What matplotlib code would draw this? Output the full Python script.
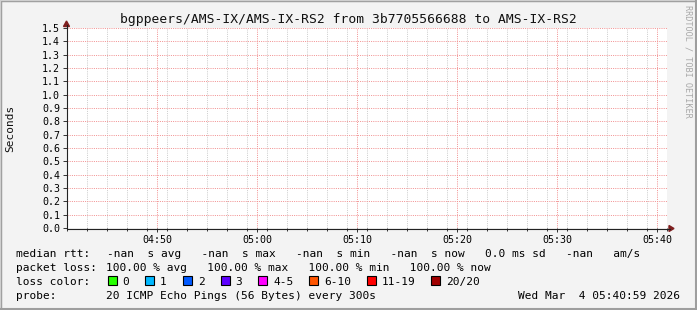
import matplotlib
matplotlib.use("Agg")
import matplotlib.pyplot as plt
from matplotlib.patches import Rectangle, Polygon
import numpy as np

plt.rcParams['font.family'] = ['DejaVu Sans Mono']

# chart content
title = "bgppeers/AMS-IX/AMS-IX-RS2 from 3b7705566688 to AMS-IX-RS2"
y_label = "Seconds"
y_ticks = [0.0, 0.1, 0.2, 0.3, 0.4, 0.5, 0.6, 0.7, 0.8, 0.9, 1.0, 1.1, 1.2, 1.3, 1.4, 1.5]
x_tick_labels = ["04:50", "05:00", "05:10", "05:20", "05:30", "05:40"]
t_start = "04:41"
t_end = "05:41"

rtt_row = "-nan  s avg   -nan  s max   -nan  s min   -nan  s now   0.0 ms sd   -nan   am/s"
loss_row = "100.00 % avg   100.00 % max   100.00 % min   100.00 % now"
loss_labels = ["0", "1", "2", "3", "4-5", "6-10", "11-19", "20/20"]
loss_colors = ["#26ff00", "#00b8ff", "#0059ff", "#5e00ff", "#ff00ff", "#ff5500", "#ff0000", "#a10000"]
probe_row = "20 ICMP Echo Pings (56 Bytes) every 300s"
stamp = "Wed Mar  4 05:40:59 2026"
watermark = "RRDTOOL / TOBI OETIKER"


def minutes(s):
    h, m = s.split(":")
    return int(h) * 60 + int(m)


W, H = 697, 310
fig = plt.figure(figsize=(W / 100, H / 100), dpi=100, facecolor="#f3f3f3")


def fx(x):
    return x / W


def fy(y):
    return 1 - y / H


# 3d border
fig.patches.append(Rectangle((0, 0), 1, 1, transform=fig.transFigure, fill=False,
                             edgecolor="#9e9e9e", lw=2.5))
fig.patches.append(Rectangle((0, 0), 1, 1, transform=fig.transFigure, fill=False,
                             edgecolor="#cfcfcf", lw=1.5))
fig.lines.append(plt.Line2D([fx(W - 1), fx(W - 1)], [0, 1], transform=fig.transFigure,
                            color="#9e9e9e", lw=1.5))
fig.lines.append(plt.Line2D([0, 1], [fy(H - 1), fy(H - 1)], transform=fig.transFigure,
                            color="#9e9e9e", lw=1.5))

L, T, R, B = 67, 28, 667, 228
ax = fig.add_axes([fx(L), fy(B), fx(R - L), (B - T) / H])
ax.set_facecolor("white")
x0, x1 = minutes(t_start), minutes(t_end)
ax.set_xlim(x0, x1)
ax.set_ylim(y_ticks[0], y_ticks[-1])

# dotted grid
grid_kw = dict(lw=0.72, ls=(0, (1, 1.2)))
minor_x = np.arange(x0, x1 + 1, 2)
major_x = [minutes(s) for s in x_tick_labels]
for m in minor_x:
    if m not in major_x and x0 < m < x1:
        ax.axvline(m, color="#cdcdcd", zorder=1, **grid_kw)
for m in major_x:
    ax.axvline(m, color="#f29494", zorder=2, **grid_kw)
for v in y_ticks[1:]:
    ax.axhline(v, color="#f29494", zorder=2, **grid_kw)

for s in ax.spines.values():
    s.set_visible(False)
ax.set_xticks(major_x)
ax.set_xticklabels(x_tick_labels)
ax.set_yticks(y_ticks)
ax.set_yticklabels(["%.1f" % v for v in y_ticks])
ax.set_xticks(minor_x, minor=True)
ax.tick_params(axis="x", which="major", length=3, width=0.7, color="#333333",
               labelsize=7.2, pad=2, direction="out")
ax.tick_params(axis="x", which="minor", length=2, width=0.7, color="#333333")
ax.tick_params(axis="y", length=3, width=0.7, color="#333333", labelsize=7.2, pad=2)

# axes lines with arrows
axis_col = "#222222"
fig.lines.append(plt.Line2D([fx(L - 0.5), fx(L - 0.5)], [fy(B), fy(25)], transform=fig.transFigure,
                            color=axis_col, lw=0.8))
fig.lines.append(plt.Line2D([fx(L), fx(670)], [fy(B + 0.5), fy(B + 0.5)], transform=fig.transFigure,
                            color=axis_col, lw=0.8))
arrow_col = "#7f1f1f"
fig.patches.append(Polygon([(fx(L - 3.5), fy(26.5)), (fx(L + 2.5), fy(26.5)), (fx(L - 0.5), fy(21))],
                           closed=True, transform=fig.transFigure, color=arrow_col))
fig.patches.append(Polygon([(fx(669), fy(B - 2.5)), (fx(669), fy(B + 3.5)), (fx(674), fy(B + 0.5))],
                           closed=True, transform=fig.transFigure, color=arrow_col))

# texts
fig.text(fx(348), fy(19), title, ha="center", va="center", fontsize=9.4, color="#111111")
fig.text(fx(10), fy((T + B) / 2), y_label, rotation=90, ha="center", va="center",
         fontsize=8, color="#111111")
fig.text(fx(688), fy(5), watermark, rotation=270, ha="center", va="top", fontsize=6.1,
         color="#a8a8a8")

fs = 8
base = [257, 271, 285, 299]
fig.text(fx(16), fy(base[0]), "median rtt:", fontsize=fs, va="baseline")
fig.text(fx(107), fy(base[0]), rtt_row, fontsize=fs, va="baseline")
fig.text(fx(16), fy(base[1]), "packet loss:", fontsize=fs, va="baseline")
fig.text(fx(106), fy(base[1]), loss_row, fontsize=fs, va="baseline")
fig.text(fx(16), fy(base[2]), "loss color:", fontsize=fs, va="baseline")
xs = 107.5
for lab, col in zip(loss_labels, loss_colors):
    fig.patches.append(Rectangle((fx(xs), fy(base[2])), fx(9), 9 / H, transform=fig.transFigure,
                                 facecolor=col, edgecolor="black", lw=0.8))
    fig.text(fx(xs + 15), fy(base[2]), lab, fontsize=fs, va="baseline")
    xs += 15 + len(lab) * 6.68 + 16
fig.text(fx(16), fy(base[3]), "probe:", fontsize=fs, va="baseline")
fig.text(fx(106), fy(base[3]), probe_row, fontsize=fs, va="baseline")
fig.text(fx(680), fy(base[3]), stamp, fontsize=fs, va="baseline", ha="right")

fig.savefig("out.png", dpi=100, facecolor=fig.get_facecolor())
